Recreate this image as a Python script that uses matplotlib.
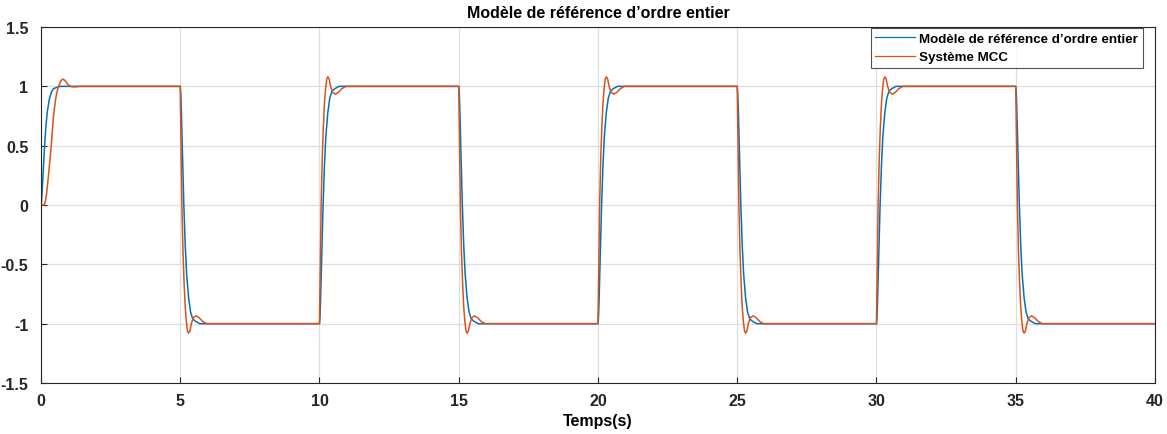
import matplotlib
matplotlib.use('Agg')
import matplotlib.pyplot as plt
from matplotlib.ticker import FuncFormatter

# square-wave reference: switch instants and target levels (starts from 0)
switch_times = [0, 5, 10, 15, 20, 25, 30, 35]
levels = [1, -1, 1, -1, 1, -1, 1, -1]
t_end = 40

# step shapes: time after switch (s), fraction of step done
blue_dt = [0, 0.02, 0.04, 0.08, 0.13, 0.18, 0.23, 0.30, 0.37, 0.45, 0.55, 0.70, 0.90]
blue_frac = [0, 0.03, 0.10, 0.28, 0.50, 0.67, 0.79, 0.89, 0.95, 0.98, 0.99, 1.0, 1.0]

orange_dt = [0, 0.03, 0.06, 0.10, 0.14, 0.18, 0.22, 0.26, 0.30, 0.35, 0.40, 0.47,
             0.57, 0.68, 0.80, 0.95, 1.20]
orange_frac = [0, 0.25, 0.50, 0.70, 0.83, 0.93, 0.99, 1.03, 1.04, 1.03, 1.0, 0.975,
               0.967, 0.975, 0.99, 1.0, 1.0]

# first step (from rest at 0) of the MCC system is slower
orange_first_dt = [0, 0.10, 0.15, 0.20, 0.27, 0.37, 0.45, 0.52, 0.57, 0.63, 0.70,
                   0.78, 0.86, 0.95, 1.05, 1.20, 1.40]
orange_first_frac = [0, 0, 0.02, 0.09, 0.25, 0.50, 0.75, 0.88, 0.95, 1.0, 1.04,
                     1.062, 1.05, 1.02, 1.0, 0.995, 1.0]

LABEL_REF = "Modèle de référence d\u2019ordre entier"
LABEL_MCC = "Système MCC"
BLUE = "#0072BD"
ORANGE = "#D95319"
FONTSIZE = 11.5


def build(dt, frac, first_dt=None, first_frac=None):
    t, y = [], []
    prev = 0
    for k, (ts, lv) in enumerate(zip(switch_times, levels)):
        d, f = dt, frac
        if k == 0 and first_dt is not None:
            d, f = first_dt, first_frac
        for a, b in zip(d, f):
            t.append(ts + a)
            y.append(prev + b * (lv - prev))
        prev = lv
    t.append(t_end)
    y.append(prev)
    return t, y


def main():
    plt.rcParams['font.family'] = ['Liberation Sans', 'DejaVu Sans']
    plt.rcParams['font.weight'] = 'bold'
    plt.rcParams['axes.unicode_minus'] = False

    fig = plt.figure(figsize=(11.67, 4.35), dpi=100)
    ax = fig.add_axes([0.0351, 0.1172, 0.9546, 0.8184])

    tb, yb = build(blue_dt, blue_frac)
    to, yo = build(orange_dt, orange_frac, orange_first_dt, orange_first_frac)
    ax.plot(tb, yb, color=BLUE, lw=1.1, label=LABEL_REF)
    ax.plot(to, yo, color=ORANGE, lw=1.1, label=LABEL_MCC)

    ax.set_xlim(0, 40)
    ax.set_ylim(-1.5, 1.5)
    ax.set_xticks(range(0, 41, 5))
    ax.set_yticks([-1.5, -1, -0.5, 0, 0.5, 1, 1.5])
    ax.yaxis.set_major_formatter(FuncFormatter(lambda v, p: "%g" % v))
    ax.tick_params(direction='in', length=4, width=0.8, labelsize=FONTSIZE,
                   colors='#262626', top=False, right=False)
    ax.tick_params(axis='x', pad=7)
    ax.tick_params(axis='y', pad=9)
    for lab in ax.get_xticklabels() + ax.get_yticklabels():
        lab.set_fontweight('bold')
    ax.grid(True, color='#dedede', lw=0.9)
    ax.set_axisbelow(True)
    for s in ax.spines.values():
        s.set_color('#262626')
        s.set_linewidth(0.8)

    ax.set_title(LABEL_REF, fontsize=FONTSIZE, fontweight='bold', pad=7)
    ax.set_xlabel("Temps(s)", fontsize=FONTSIZE, fontweight='bold', labelpad=4)

    leg = ax.legend(loc='upper right', bbox_to_anchor=(0.989, 0.997), fontsize=9.6,
                    frameon=True, fancybox=False, handlelength=3.0,
                    handletextpad=0.3, borderpad=0.35, labelspacing=0.45,
                    borderaxespad=0.0)
    leg.get_frame().set_edgecolor('#262626')
    leg.get_frame().set_linewidth(0.8)
    for line in leg.get_lines():
        line.set_linewidth(0.9)
    for txt in leg.get_texts():
        txt.set_fontweight('bold')

    plt.savefig('out.png', dpi=100)
    plt.close()


if __name__ == "__main__":
    main()
